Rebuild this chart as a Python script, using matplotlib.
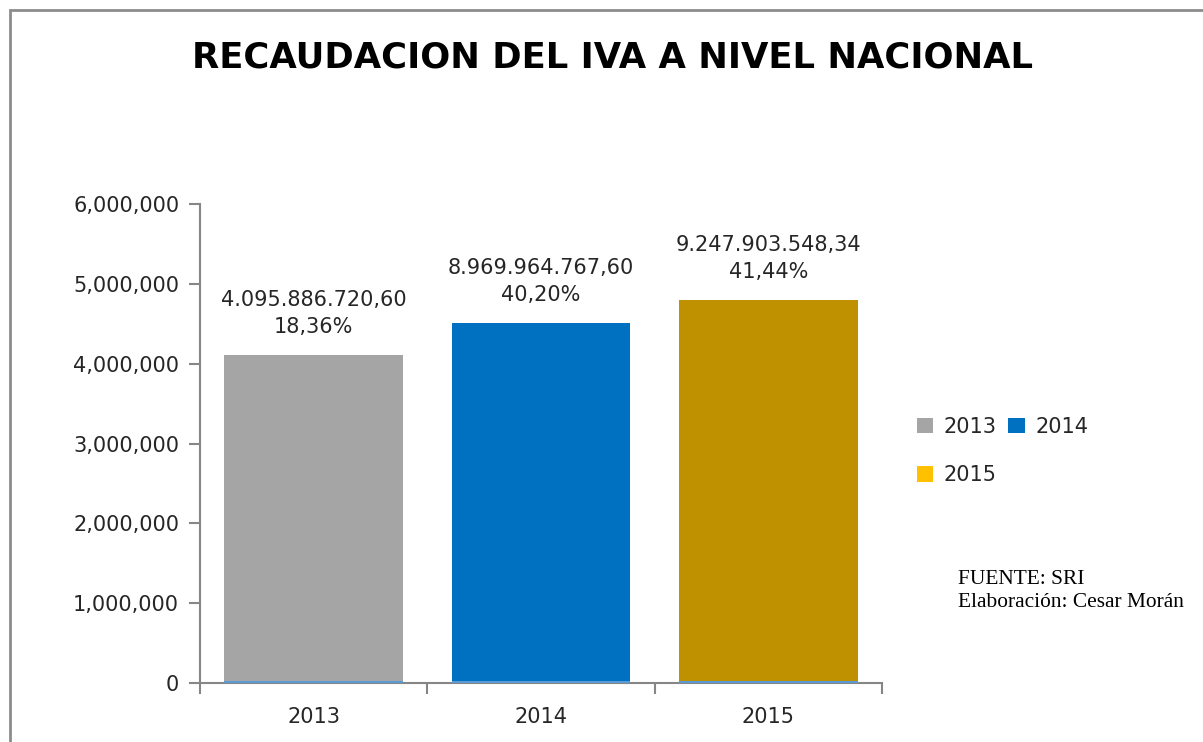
import numpy as np
import matplotlib
matplotlib.use("Agg")
import matplotlib.pyplot as plt
from matplotlib.patches import Rectangle, Patch
from matplotlib.ticker import FuncFormatter

# data
years = ['2013', '2014', '2015']
recaudacion = [4110000, 4510000, 4800000]          # bar height (axis units)
serie_base = [25000, 25000, 25000]                  # thin second series at the bottom
etiqueta_monto = ['4.095.886.720,60', '8.969.964.767,60', '9.247.903.548,34']
etiqueta_pct = ['18,36%', '40,20%', '41,44%']

bar_colors = ['#A5A5A5', '#0070C0', '#BF9000']
legend_colors = ['#A5A5A5', '#0070C0', '#FFC000']
text_color = '#262626'
axis_color = '#868686'

plt.rcParams['font.family'] = ['DejaVu Sans']

fig = plt.figure(figsize=(12.03, 7.42), dpi=100)
ax = fig.add_axes([200 / 1203, 1 - 683 / 742, 682 / 1203, 479 / 742])

x = np.arange(len(years))
ax.bar(x, recaudacion, width=0.785, color=bar_colors, zorder=2)
ax.bar(x, serie_base, width=0.785, color='#5B9BD5', zorder=3)

# value labels above bars
for xi, v, m, p in zip(x, recaudacion, etiqueta_monto, etiqueta_pct):
    ax.annotate(m + '\n' + p, xy=(xi, v), xytext=(0, 13), textcoords='offset points',
                ha='center', va='bottom', fontsize=15, color=text_color,
                linespacing=1.4)

ax.set_xlim(-0.5, 2.5)
ax.set_ylim(0, 6000000)
ax.set_yticks(np.arange(0, 6000001, 1000000))
ax.yaxis.set_major_formatter(FuncFormatter(lambda v, pos: f'{int(v):,}'))
ax.set_xticks([0, 1, 2])
ax.set_xticklabels(years)
ax.set_xticks([-0.5, 0.5, 1.5, 2.5], minor=True)

for s in ['top', 'right']:
    ax.spines[s].set_visible(False)
for s in ['left', 'bottom']:
    ax.spines[s].set_color(axis_color)
    ax.spines[s].set_linewidth(1.5)

ax.tick_params(axis='y', length=8, width=1.5, color=axis_color, labelsize=15,
               labelcolor=text_color, pad=7)
ax.tick_params(axis='x', which='major', length=0, labelsize=15,
               labelcolor=text_color, pad=17)
ax.tick_params(axis='x', which='minor', length=8, width=1.5, color=axis_color)

# title
fig.text(612 / 1203, 1 - 58 / 742, 'RECAUDACION DEL IVA A NIVEL NACIONAL',
         ha='center', va='center', fontsize=25.5, fontweight='bold', color='black')

# legend
handles = [Patch(facecolor=c, label=y) for c, y in zip(legend_colors, years)]
order = [0, 2, 1]
fig.legend([handles[i] for i in order], [years[i] for i in order], ncol=2,
           loc='upper left', bbox_to_anchor=(898 / 1203, 1 - 398 / 742),
           frameon=False, fontsize=15, handlelength=0.8, handleheight=0.8,
           handletextpad=0.5, columnspacing=0.55, labelspacing=1.35,
           labelcolor=text_color)

# source note
fig.text(958 / 1203, 1 - 591 / 742, 'FUENTE: SRI\nElaboración: Cesar Morán',
         ha='left', va='center', fontsize=15.4, family='Liberation Serif',
         color='black', linespacing=1.3)

# outer frame
fig.patches.append(Rectangle((10 / 1203, -0.1), 1.2, 1 - 10 / 742 + 0.1,
                             transform=fig.transFigure, fill=False,
                             edgecolor='#8C8C8C', linewidth=2))

fig.savefig('out.png', dpi=100)
